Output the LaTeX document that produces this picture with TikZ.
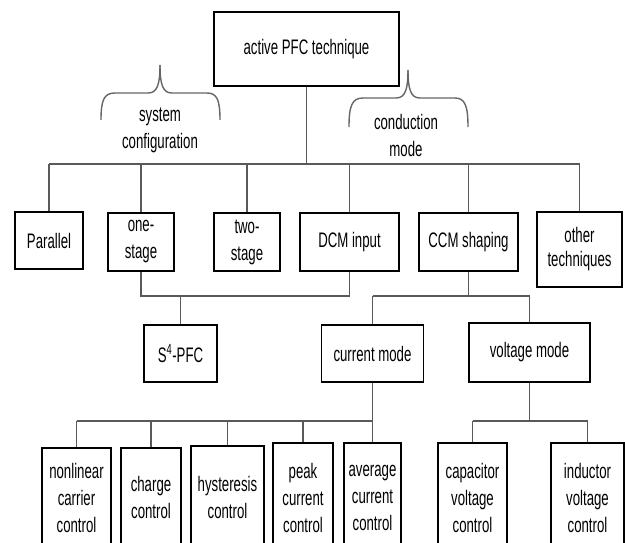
\documentclass[tikz,border=0pt]{standalone}
\usepackage{fontspec}
\setmainfont{Liberation Sans}[FakeStretch=0.63]
\begin{document}
\begin{tikzpicture}[x=1pt,y=-1pt,
  box/.style={draw=black,line width=1.7pt,align=center,inner sep=0pt,
    font=\fontsize{21}{27}\selectfont},
  conn/.style={draw=black!65,line width=1.3pt},
  brc/.style={draw=black!60,line width=1.4pt},
  lbl/.style={align=center,inner sep=0pt,font=\fontsize{21}{27}\selectfont}]
\useasboundingbox (0,0) rectangle (625,543);
\clip (0,0) rectangle (625,543);
\fill[white] (0,0) rectangle (625,543);
% top
\node[box,minimum width=185pt,minimum height=74pt] (top) at (306.5,49) {active PFC technique};
% level 1
\node[box,minimum width=68pt,minimum height=57pt] (par) at (49,240.5) {Parallel};
\node[box,minimum width=66pt,minimum height=58pt] (one) at (141,242) {one-\\stage};
\node[box,minimum width=66pt,minimum height=58pt] (two) at (247,242) {two-\\stage};
\node[box,minimum width=99pt,minimum height=58pt] (dcm) at (349.5,242) {DCM input};
\node[box,minimum width=99pt,minimum height=58pt] (ccm) at (468.5,242) {CCM shaping};
\node[box,minimum width=85pt,minimum height=75pt,font=\fontsize{21}{24}\selectfont] (oth) at (579.5,249.5) {other\\techniques};
% level 2
\node[box,minimum width=73pt,minimum height=57pt] (s4) at (180.5,353.5) {S\textsuperscript{4}-PFC};
\node[box,minimum width=102pt,minimum height=57pt] (cur) at (372.5,353.5) {current mode};
\node[box,minimum width=121pt,minimum height=59pt] (vol) at (529.5,352.5) {voltage mode};
% level 3
\node[box,anchor=north,minimum width=69pt,minimum height=100pt] (nlc) at (76.5,447) {nonlinear\\carrier\\control};
\node[box,anchor=north,minimum width=60pt,minimum height=100pt] (chg) at (151,447) {charge\\control};
\node[box,anchor=north,minimum width=73pt,minimum height=104pt] (hys) at (227.5,445) {hysteresis\\control};
\node[box,anchor=north,minimum width=60pt,minimum height=110pt] (pk) at (303,442) {peak\\current\\control};
\node[box,anchor=north,minimum width=57pt,minimum height=110pt] (avg) at (372.5,442) {average\\current\\control};
\node[box,anchor=north,minimum width=69pt,minimum height=110pt] (cap) at (472.5,442) {capacitor\\voltage\\control};
\node[box,anchor=north,minimum width=73pt,minimum height=110pt] (ind) at (587.5,442) {inductor\\voltage\\control};
% bus coordinates
\coordinate (b1) at (0,164);
\coordinate (b2) at (0,296);
\coordinate (b3) at (0,421);
% connectors level 1
\draw[conn] (top.south) -- (top.south |- b1);
\draw[conn] (par.north |- b1) -- (oth.north |- b1);
\foreach \n in {par,one,two,dcm,ccm,oth} \draw[conn] (\n.north |- b1) -- (\n.north);
% one-stage + DCM -> S4
\draw[conn] (one.south) -- (one.south |- b2) -- (dcm.south |- b2) -- (dcm.south);
\draw[conn] (s4.north |- b2) -- (s4.north);
% CCM -> current, voltage
\draw[conn] (ccm.south) -- (ccm.south |- b2);
\draw[conn] (cur.north |- b2) -- (vol.north |- b2);
\draw[conn] (cur.north |- b2) -- (cur.north);
\draw[conn] (vol.north |- b2) -- (vol.north);
% current -> controls
\draw[conn] (cur.south) -- (cur.south |- b3);
\draw[conn] (nlc.north |- b3) -- (cur.south |- b3);
\foreach \n in {nlc,chg,hys,pk,avg} \draw[conn] (\n.north |- b3) -- (\n.north);
% voltage -> controls
\draw[conn] (vol.south) -- (vol.south |- b3);
\draw[conn] (cap.north |- b3) -- (ind.north |- b3);
\foreach \n in {cap,ind} \draw[conn] (\n.north |- b3) -- (\n.north);
% braces
\draw[brc] (101,120) .. controls (101,100) and (104,93) .. (115,93) -- (148,93) .. controls (157,93) and (160,85) .. (160,65);
\draw[brc] (160,65) .. controls (160,85) and (163,93) .. (172,93) -- (207,93) .. controls (217,93) and (220,100) .. (220,120);
\draw[brc] (349,127) .. controls (349,106) and (352,98) .. (363,98) -- (396,98) .. controls (405,98) and (408,90) .. (408,70);
\draw[brc] (408,70) .. controls (408,90) and (411,98) .. (420,98) -- (455,98) .. controls (465,98) and (468,106) .. (468,127);
\node[lbl] (sc) at (160,130) {system\\configuration};
\node[lbl] (cm) at (406,135) {conduction\\mode};
\end{tikzpicture}
\end{document}
